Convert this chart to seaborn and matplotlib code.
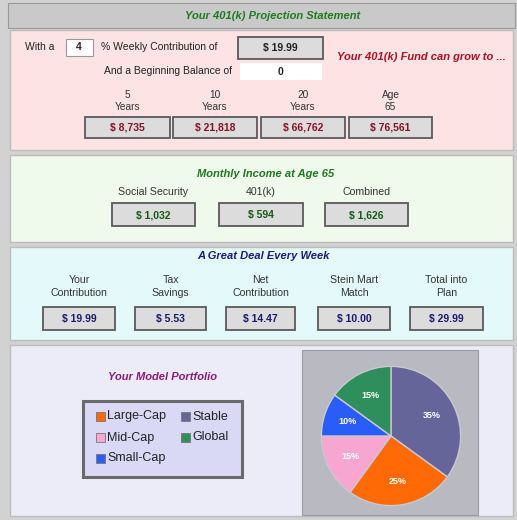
import matplotlib
matplotlib.use("Agg")
import matplotlib.pyplot as plt
import seaborn as sns
from matplotlib.patches import Rectangle

# values read from the statement
pct_contrib = "4"
weekly_contrib = "$ 19.99"
begin_balance = "0"

growth_labels = ["5\nYears", "10\nYears", "20\nYears", "Age\n65"]
growth_values = ["$ 8,735", "$ 21,818", "$ 66,762", "$ 76,561"]

income_labels = ["Social Security", "401(k)", "Combined"]
income_values = ["$ 1,032", "$ 594", "$ 1,626"]

week_labels = ["Your\nContribution", "Tax\nSavings", "Net\nContribution", "Stein Mart\nMatch", "Total into\nPlan"]
week_values = ["$ 19.99", "$ 5.53", "$ 14.47", "$ 10.00", "$ 29.99"]

# pie order, clockwise from the top
fund_names = ["Stable", "Large-Cap", "Mid-Cap", "Small-Cap", "Global"]
fund_shares = [35, 25, 15, 10, 15]
fund_colors = ["#65659a", "#ff6a06", "#f7a6d2", "#2a5cf8", "#2e8f5c"]

sns.set_theme(style="white")
plt.rcParams["font.family"] = ["Liberation Sans", "DejaVu Sans"]

W, H = 517, 520
fig = plt.figure(figsize=(W / 100, H / 100), dpi=100, facecolor="#cfcfcf")
ax = fig.add_axes([0, 0, 1, 1])
ax.set_xlim(0, W)
ax.set_ylim(H, 0)
ax.axis("off")


def rect(x0, y0, x1, y1, fc, ec="none", lw=0, z=1):
    ax.add_patch(Rectangle((x0, y0), x1 - x0, y1 - y0, facecolor=fc,
                           edgecolor=ec, linewidth=lw, zorder=z))


def value_box(x0, x1, y0, y1, text, color):
    rect(x0, y0, x1, y1, "#dcdcdc", "#5a5a5a", 1.3, z=3)
    ax.text((x0 + x1) / 2, (y0 + y1) / 2 + 0.5, text, ha="center", va="center",
            fontsize=7.5, fontweight="bold", color=color, zorder=4)


head = dict(ha="center", va="center", fontsize=8, fontweight="bold", style="italic")

# frame and panels
rect(0, 0, W, H, "#d2d2d2")
rect(8, 3, 515, 28, "#c9c9c9", "#9a9a9a", 0.8)
ax.text(273, 16, "Your 401(k) Projection Statement", color="#1f7a1f", **head)

rect(10, 30, 513, 150, "#fde3e3", "#bcbcbc", 1)
rect(10, 155, 513, 242, "#effaec", "#bcbcbc", 1)
rect(10, 247, 513, 340, "#e4fafa", "#bcbcbc", 1)
rect(10, 345, 513, 516, "#ececf8", "#bcbcbc", 1)

# pink panel
lab = dict(fontsize=7.5, color="#222222", va="center")
ax.text(25, 47, "With a", ha="left", **lab)
rect(66, 39, 93, 56, "white", "#9a9a9a", 0.8, z=3)
ax.text(79, 47.5, pct_contrib, ha="center", va="center", fontsize=7.5,
        fontweight="bold", zorder=4)
ax.text(101, 47, "% Weekly Contribution of", ha="left", **lab)
value_box(238, 323, 37, 59, weekly_contrib, "#222222")
ax.text(232, 71, "And a Beginning Balance of", ha="right", **lab)
rect(240, 63, 322, 80, "white", "none", 0, z=3)
ax.text(281, 72, begin_balance, ha="center", va="center", fontsize=7.5,
        fontweight="bold", zorder=4)
ax.text(421, 57, "Your 401(k) Fund can grow to ...", color="#b01020", **head)

g_x = [(85, 170), (173, 257), (261, 345), (349, 432)]
for (x0, x1), lbl, val in zip(g_x, growth_labels, growth_values):
    ax.text((x0 + x1) / 2, 101, lbl, ha="center", va="center", fontsize=7.3,
            color="#333333", linespacing=1.3)
    value_box(x0, x1, 117, 138, val, "#8a1020")

# green panel
ax.text(266, 174, "Monthly Income at Age 65", color="#1f7a1f", **head)
i_x = [(112, 195), (219, 303), (325, 408)]
for (x0, x1), lbl, val in zip(i_x, income_labels, income_values):
    ax.text((x0 + x1) / 2, 192, lbl, ha="center", va="center", fontsize=7.6,
            color="#333333")
    value_box(x0, x1, 203, 226, val, "#145a14")

# cyan panel
ax.text(263, 256, "A Great Deal Every Week", color="#1a1a80", **head)
w_x = [(43, 115), (135, 206), (226, 295), (318, 390), (410, 483)]
for (x0, x1), lbl, val in zip(w_x, week_labels, week_values):
    ax.text((x0 + x1) / 2, 286.5, lbl, ha="center", va="center", fontsize=7.6,
            color="#333333", linespacing=1.45)
    value_box(x0, x1, 307, 330, val, "#1a1a70")

# lavender panel
ax.text(163, 377, "Your Model Portfolio", color="#8a1a80", **head)
rect(83, 401, 242, 477, "#d9d9f6", "#6a6a6a", 2.2, z=3)
legend_pos = {"Large-Cap": (96, 416), "Stable": (181, 416),
              "Mid-Cap": (96, 437), "Global": (181, 437),
              "Small-Cap": (96, 458)}
for name, color in zip(fund_names, fund_colors):
    x, y = legend_pos[name]
    rect(x, y - 4.5, x + 9, y + 4.5, color, "#777777", 0.6, z=4)
    ax.text(x + 11, y + 0.5, name, ha="left", va="center", fontsize=9,
            color="#222222", zorder=4)

rect(302, 350, 478, 515, "#b9b9c2", "#9a9aa2", 0.8, z=2)
pie_ax = fig.add_axes([320 / W, 1 - 507 / H, 142 / W, 142 / H])
wedges, texts, autotexts = pie_ax.pie(
    fund_shares, colors=fund_colors, startangle=90, counterclock=False,
    autopct="%d%%", pctdistance=0.66,
    wedgeprops=dict(edgecolor="#c9c9d2", linewidth=1.0),
    textprops=dict(color="white", fontsize=6.5, fontweight="bold"))
pie_ax.set_xlim(-1.02, 1.02)
pie_ax.set_ylim(-1.02, 1.02)
pie_ax.set_aspect("equal")

fig.savefig("out.png", dpi=100, facecolor=fig.get_facecolor())
